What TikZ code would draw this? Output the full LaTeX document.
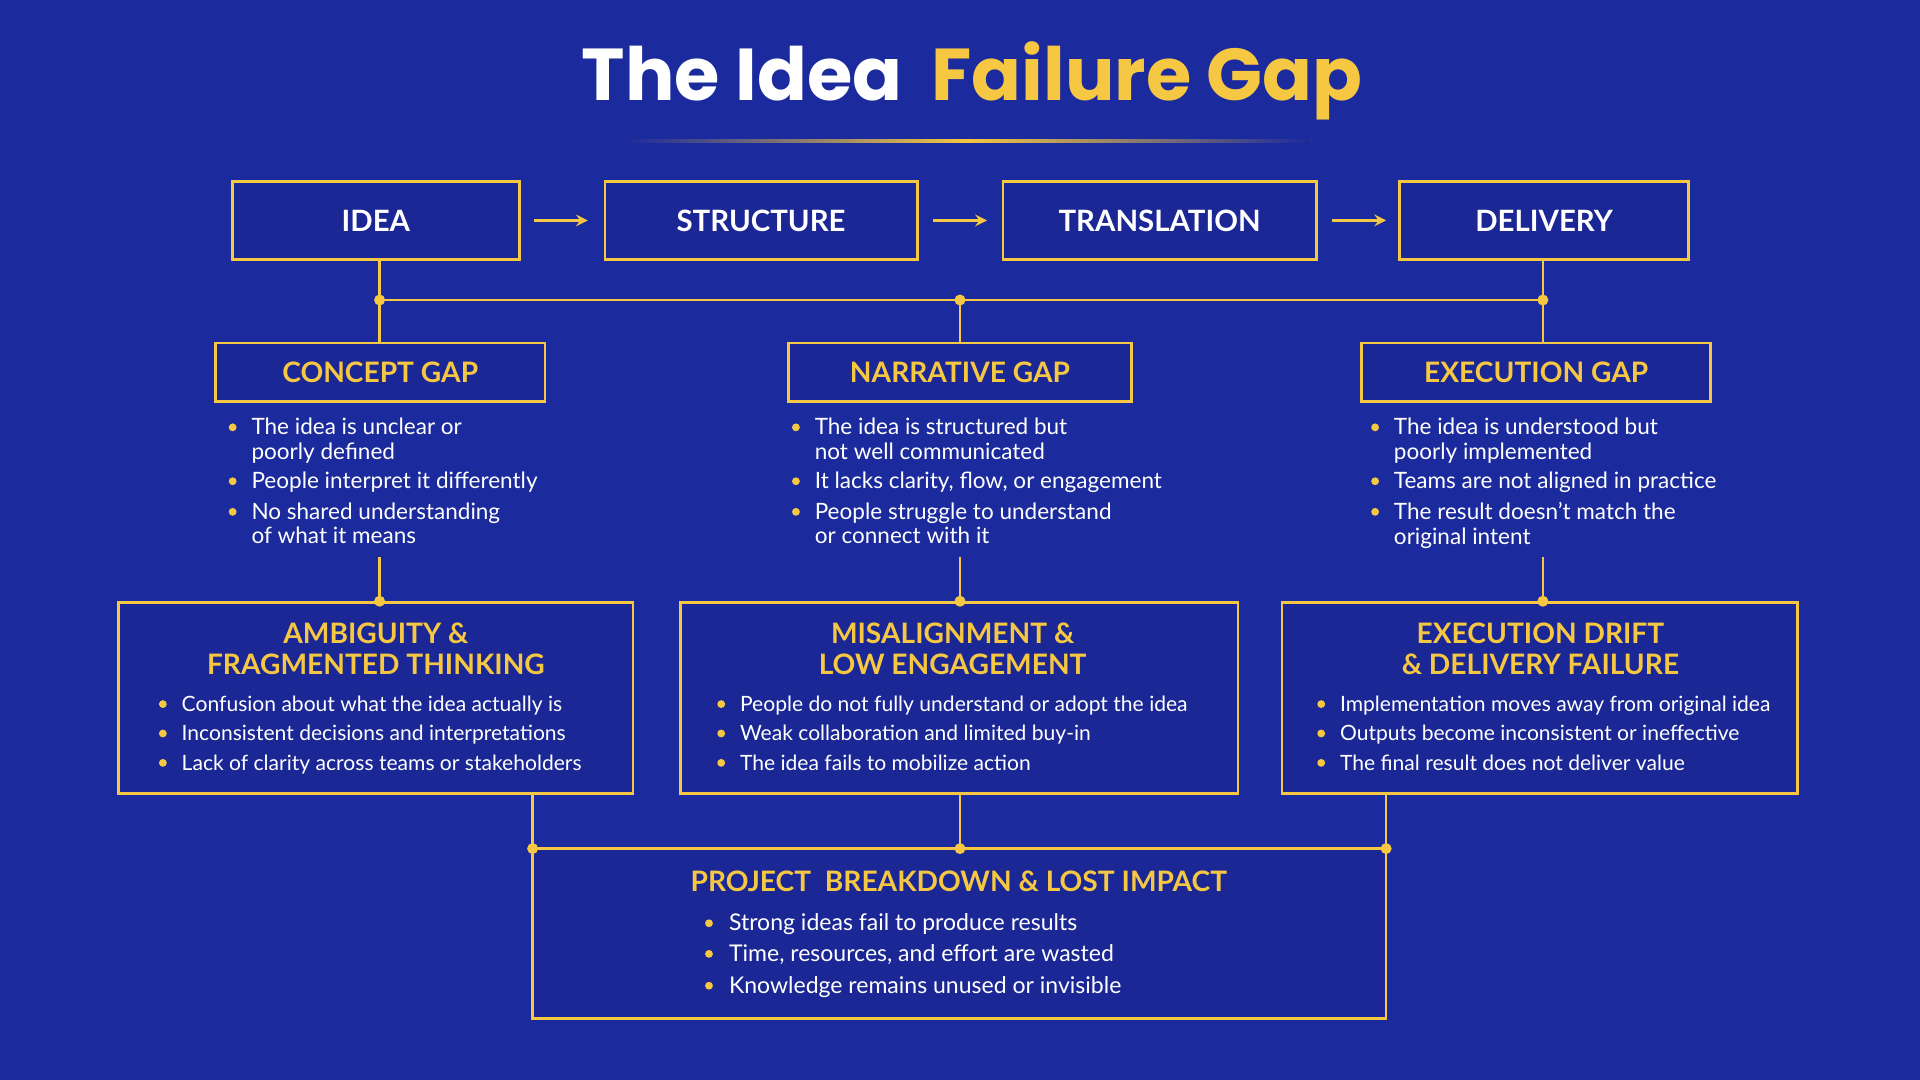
\documentclass[tikz,border=0pt]{standalone}
\usepackage{fontspec}
\setmainfont{Lato}
\newfontfamily\titlefont{Poppins}
\definecolor{bg}{HTML}{1B2A9C}
\definecolor{gold}{HTML}{F5C742}
\definecolor{boxbg}{HTML}{1A2794}
\begin{document}
\begin{tikzpicture}[x=0.5pt,y=-0.5pt,
  frame/.style={draw=gold,line width=1.1pt,fill=boxbg},
  topbox/.style={frame,minimum width=#1*0.5pt,minimum height=64*0.5pt,inner sep=0pt,text=white,font=\fontsize{12}{14}\selectfont\bfseries},
  gapbox/.style={frame,minimum width=#1*0.5pt,minimum height=48*0.5pt,inner sep=0pt,text=gold,font=\fontsize{11.5}{14}\selectfont\bfseries},
  conn/.style={gold,line width=1pt},
  arr/.style={gold,line width=1.1pt,->,>=stealth},
  dot/.style={circle,fill=gold,inner sep=0pt,minimum size=4.5pt},
  btxt/.style={anchor=north west,text=white,align=left,inner sep=0pt,font=\fontsize{8.6}{10}\selectfont},
  ttl/.style={text=gold,align=center,font=\fontsize{11.5}{12.6}\selectfont\bfseries},
  bul/.style={circle,fill=gold,inner sep=0pt,minimum size=3.2pt}
]
\fill[bg] (0,0) rectangle (1568,882);
\useasboundingbox (0,0) rectangle (1568,882);
% title
\node (title) at (794,66) {\titlefont\fontsize{30}{34}\selectfont\bfseries\textcolor{white}{The Idea}\hspace{0.4em}\textcolor{gold}{Failure Gap}};
\shade[left color=bg,right color=gold,middle color=gold] (510,114) rectangle (1070,116.5);
\shade[left color=bg,right color=gold] (510,114) rectangle (790,116.5);
\shade[left color=gold,right color=bg] (790,114) rectangle (1070,116.5);
% top boxes
\node[topbox=234] (idea) at (307,180) {IDEA};
\node[topbox=255] (struct) at (621.5,180) {STRUCTURE};
\node[topbox=256] (trans) at (947,180) {TRANSLATION};
\node[topbox=236] (deliv) at (1261,180) {DELIVERY};
\draw[arr] (436,180) -- (480,180);
\draw[arr] (762,180) -- (806,180);
\draw[arr] (1088,180) -- (1132,180);
% connectors
\coordinate (h1) at (310,245); \coordinate (h2) at (784,245); \coordinate (h3) at (1260,245);
\node[gapbox=269] (cg) at (310.5,304) {CONCEPT GAP};
\node[gapbox=280] (ng) at (784,304) {NARRATIVE GAP};
\node[gapbox=285] (eg) at (1254.5,304) {EXECUTION GAP};
\draw[conn] (310,212) -- (cg.north -| h1);
\draw[conn] (1260,212) -- (1260,280);
\draw[conn] (h2) -- (784,280);
\draw[conn] (h1) -- (h3);
\node[dot] at (h1) {}; \node[dot] at (h2) {}; \node[dot] at (h3) {};
% gap bullets
\foreach \bx/\ya/\ta/\yb/\tb/\yc/\tc in {
 190/349/{The idea is unclear or\\poorly defined}/393/{People interpret it differently}/418/{No shared understanding\\of what it means},
 650/349/{The idea is structured but\\not well communicated}/393/{It lacks clarity, flow, or engagement}/418/{People struggle to understand\\or connect with it},
 1123/349/{The idea is understood but\\poorly implemented}/393/{Teams are not aligned in practice}/418/{The result doesn't match the\\original intent}}{
 \node[bul] at (\bx,\ya) {}; \node[btxt,font=\fontsize{9.2}{10}\selectfont] at (\bx+15,\ya-8) {\ta};
 \node[bul] at (\bx,\yb) {}; \node[btxt,font=\fontsize{9.2}{10}\selectfont] at (\bx+15,\yb-8) {\tb};
 \node[bul] at (\bx,\yc) {}; \node[btxt,font=\fontsize{9.2}{10}\selectfont] at (\bx+15,\yc-8) {\tc};
}
% big boxes
\draw[frame] (97,492) rectangle (517,648);
\draw[frame] (556,492) rectangle (1011,648);
\draw[frame] (1047,492) rectangle (1468,648);
\node[ttl] (t1) at (307,530) {AMBIGUITY \&\\FRAGMENTED THINKING};
\node[ttl] (t2) at (778,530) {MISALIGNMENT \&\\LOW ENGAGEMENT};
\node[ttl] (t3) at (1258,530) {EXECUTION DRIFT\\\& DELIVERY FAILURE};
\coordinate (b1) at (310,491); \coordinate (b2) at (784,491); \coordinate (b3) at (1260,491);
\draw[conn] (310,455) -- (b1); \draw[conn] (784,455) -- (b2); \draw[conn] (1260,455) -- (b3);
\node[dot] at (b1) {}; \node[dot] at (b2) {}; \node[dot] at (b3) {};
\foreach \bx/\ta/\tb/\tc in {
 133/{Confusion about what the idea actually is}/{Inconsistent decisions and interpretations}/{Lack of clarity across teams or stakeholders},
 589/{People do not fully understand or adopt the idea}/{Weak collaboration and limited buy-in}/{The idea fails to mobilize action},
 1079/{Implementation moves away from original idea}/{Outputs become inconsistent or ineffective}/{The final result does not deliver value}}{
 \node[bul] at (\bx,575) {}; \node[btxt] at (\bx+15,568) {\ta};
 \node[bul] at (\bx,599) {}; \node[btxt] at (\bx+15,592) {\tb};
 \node[bul] at (\bx,623) {}; \node[btxt] at (\bx+15,616) {\tc};
}
% bottom box
\draw[frame] (435,693) rectangle (1132,832);
\coordinate (c1) at (435,693); \coordinate (c2) at (784,693); \coordinate (c3) at (1132,693);
\draw[conn] (435,648) -- (c1); \draw[conn] (784,648) -- (c2); \draw[conn] (1132,648) -- (c3);
\node[dot] at (c1) {}; \node[dot] at (c2) {}; \node[dot] at (c3) {};
\node[ttl] (t4) at (783,720) {PROJECT\ \ BREAKDOWN \& LOST IMPACT};
\node[bul] at (579,754) {}; \node[btxt,font=\fontsize{9.4}{10}\selectfont] at (595,746) {Strong ideas fail to produce results};
\node[bul] at (579,779) {}; \node[btxt,font=\fontsize{9.4}{10}\selectfont] at (595,771) {Time, resources, and effort are wasted};
\node[bul] at (579,805) {}; \node[btxt,font=\fontsize{9.4}{10}\selectfont] at (595,797) {Knowledge remains unused or invisible};
\end{tikzpicture}
\end{document}
